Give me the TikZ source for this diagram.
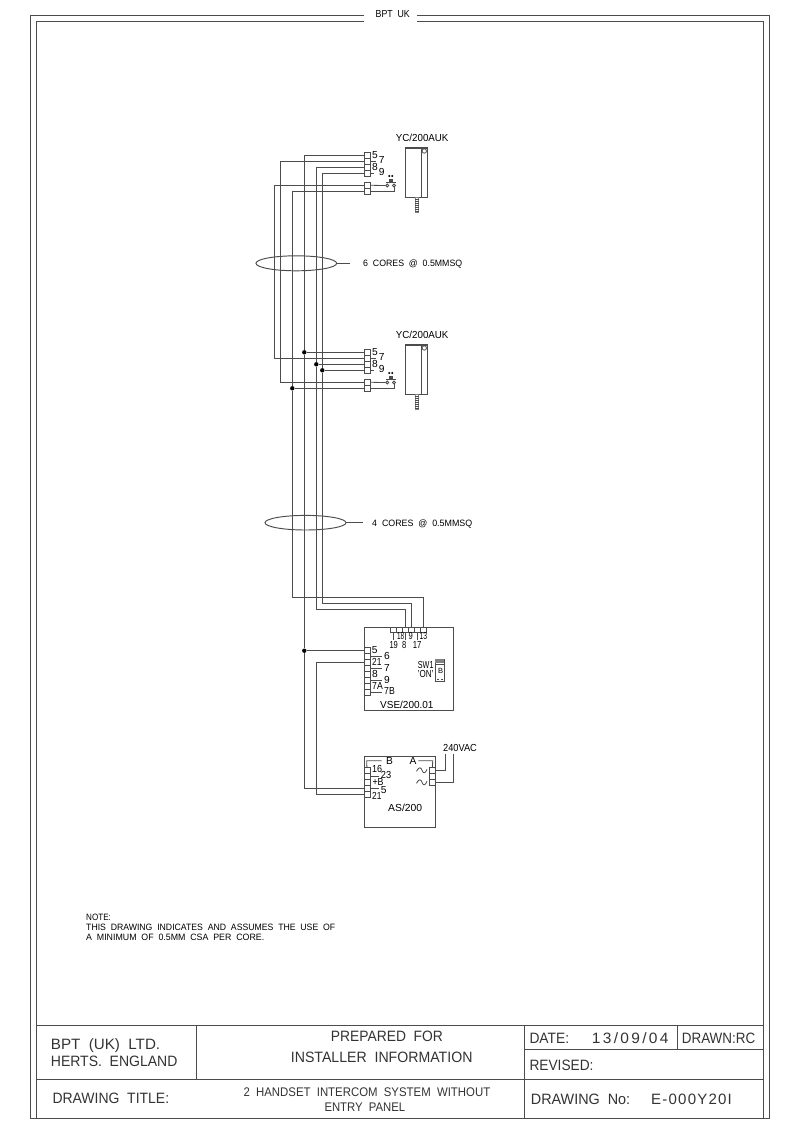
\documentclass[tikz,border=0pt]{standalone}
\usepackage{fontspec}
\usepackage{graphicx}
\usetikzlibrary{shapes.geometric}
\setmainfont{Liberation Sans}
\definecolor{ln}{gray}{0.3}
\newcommand\T[2]{\resizebox{#1pt}{\height}{\spaceskip=.55em #2}}
\tikzset{
  wire/.style={draw=ln,line width=0.95pt},
  fine/.style={draw=ln,line width=0.8pt},
  term/.style={draw=ln,line width=0.8pt,rectangle,inner sep=0pt,minimum width=6pt,minimum height=6pt},
  dotj/.style={circle,fill=black,inner sep=0pt,minimum size=4.4pt},
  ring/.style={circle,draw=ln,line width=0.8pt,inner sep=0pt,minimum size=3pt},
  box/.style={draw=ln,line width=0.95pt,rectangle,inner sep=0pt,anchor=north west},
  cable/.style={ellipse,draw=ln,line width=0.95pt,inner sep=0pt},
  lb/.style={anchor=base west,inner sep=0pt,font=\fontsize{10.2}{11}\selectfont,text=black},
  sm/.style={anchor=base west,inner sep=0pt,font=\fontsize{9.2}{10}\selectfont,text=black},
  big/.style={anchor=base west,inner sep=0pt,font=\fontsize{15}{16}\selectfont,text=black!80},
  mid/.style={anchor=base west,inner sep=0pt,font=\fontsize{12.5}{14}\selectfont,text=black!80}
}
\newcommand\Handset[2]{%
\begin{scope}[shift={(0,#2)}]
  \node[term] (#1a) at (367,155.3) {};
  \node[term] (#1b) at (367,161.3) {};
  \node[term] (#1c) at (367,167.3) {};
  \node[term] (#1d) at (367,173.3) {};
  \node[term] (#1e) at (367,185.3) {};
  \node[term] (#1f) at (367,191.3) {};
  \node[ring] (#1p) at (387.3,185.5) {};
  \node[ring] (#1q) at (394,185.5) {};
  \coordinate (#1n1) at (376,161.3);
  \coordinate (#1n2) at (374,173.3);
  \coordinate (#1n3) at (394,191.3);
  \draw[fine] (#1b.east) -- (#1n1);
  \draw[fine] (#1d.east) -- (#1n2);
  \draw[fine] (#1e.east) -- (#1p.west);
  \draw[fine] (#1f.east) -- (#1n3) -- (#1q.south);
  \fill[ln] (385.7,181.8) rectangle (395.7,183.2);
  \fill[ln] (389,179.3) rectangle (392.7,181.8);
  \fill[black] (389.3,176) circle (1.1);
  \fill[black] (392.3,176) circle (1.1);
  \draw[wire] (405.3,147.9) rectangle (427.3,197.3);
  \draw[ln,line width=1.6pt] (405.3,148.2) -- (427.3,148.2);
  \draw[fine] (421.3,148) -- (421.3,197.3);
  \draw[fine] (424.3,151) circle (2.2);
  \draw[ln!70,line width=0.6pt] (415.3,197.5) rectangle (418.5,212.3);
  \foreach \yy in {199,201,...,211} \draw[ln,line width=0.6pt] (415.3,\yy) -- (418.5,\yy);
  \node[lb] (#1t0) at (395.7,141.7) {\T{52.6}{YC/200AUK}};
  \node[lb] (#1t1) at (372,158.3) {5};
  \node[lb] (#1t2) at (378.7,163.7) {7};
  \node[lb] (#1t3) at (372,170.3) {8};
  \node[lb] (#1t4) at (378.7,175.7) {9};
\end{scope}}
\begin{document}
\begin{tikzpicture}[x=1pt,y=-1pt]
\useasboundingbox (0,0) rectangle (800,1132);
% frame
\coordinate (fa) at (363.7,15.3); \coordinate (fb) at (417.3,15.3);
\coordinate (fc) at (363.7,21.7); \coordinate (fd) at (417.3,21.7);
\draw[wire] (fa) -- (30,15.3) -- (30,1118.7) -- (769.3,1118.7) -- (769.3,15.3) -- (fb);
\draw[wire] (fc) -- (36,21.7) -- (36,1118.7);
\draw[wire] (fd) -- (763.7,21.7) -- (763.7,1118.7);
\node[lb] (ftitle) at (375.5,18) {\T{34}{BPT UK}};
% title block
\draw[wire] (36,1025) -- (763.7,1025);
\draw[wire] (36,1079.3) -- (763.7,1079.3);
\draw[wire] (196.7,1025) -- (196.7,1079.3);
\draw[wire] (524.7,1025) -- (524.7,1118.7);
\draw[wire] (677.3,1025) -- (677.3,1049.7);
\draw[wire] (524.7,1049.7) -- (763.7,1049.7);
\node[big] at (50.7,1049) {\T{109.3}{BPT (UK) LTD.}};
\node[big] at (50.7,1066.7) {\T{126.6}{HERTS. ENGLAND}};
\node[big] at (52.3,1103.3) {\T{116.7}{DRAWING TITLE:}};
\node[big] at (330.7,1041.7) {\T{112}{PREPARED FOR}};
\node[big] at (290.7,1062.3) {\T{181.6}{INSTALLER INFORMATION}};
\node[mid] at (243.3,1096) {\T{246.7}{2 HANDSET INTERCOM SYSTEM WITHOUT}};
\node[mid] at (324.3,1111) {\T{80.7}{ENTRY PANEL}};
\node[big] at (529.3,1043.3) {\T{39.7}{DATE:}};
\node[big] at (591.7,1043.3) {\T{76.6}{\addfontfeature{LetterSpace=15}13/09/04}};
\node[big] at (681.7,1043.3) {\T{73.3}{DRAWN:RC}};
\node[big] at (529.3,1070) {\T{64}{REVISED:}};
\node[big] at (530.7,1104.3) {\T{99.3}{DRAWING No:}};
\node[big] at (651,1104.3) {\T{80.7}{\addfontfeature{LetterSpace=8}E-000Y20I}};
% note
\node[sm] at (86,920) {\T{24.7}{NOTE:}};
\node[sm] at (86,930.7) {\T{249}{THIS DRAWING INDICATES AND ASSUMES THE USE OF}};
\node[sm] at (86,940.7) {\T{178}{A MINIMUM OF 0.5MM CSA PER CORE.}};
% handsets
\Handset{A}{0}
\Handset{B}{197}
% VSE
\node[box,minimum width=89.6pt,minimum height=83.3pt] (vse) at (363.7,627) {};
\foreach \n/\yy in {a/650.7,b/656.7,c/662.7,d/668.7,e/674.7,f/680.7,g/686.7,h/692.7}
  \node[term] (V\n) at (366.9,\yy) {};
\foreach \n/\xx in {p/393,q/399.1,r/405.2,s/411.3,t/417.4,u/423.5}
  \node[term,minimum width=6.1pt,minimum height=5.3pt] (V\n) at (\xx,629.7) {};
\foreach \n in {b,d,f,h} { \draw[fine] (V\n.east) -- ++(11.7,0); }
\foreach \n in {p,r,t} { \draw[fine] (V\n.south) -- ++(0,7.5); }
\node[lb] at (371.7,653.3) {5};
\node[lb] at (384,659.3) {6};
\node[lb] at (372,665.3) {\T{9.3}{21}};
\node[lb] at (384,671.3) {7};
\node[lb] at (372,677.3) {8};
\node[lb] at (384,683.3) {9};
\node[lb] at (372,689.3) {\T{10.6}{7A}};
\node[lb] at (384,694.7) {\T{10.6}{7B}};
\node[lb] at (396.8,639) {\T{7}{18}};
\node[lb] at (408.3,639) {\T{4.2}{9}};
\node[lb] at (419.3,639) {\T{7.6}{13}};
\node[lb] at (389.3,648.3) {\T{8.4}{19}};
\node[lb] at (402,648.3) {\T{4.2}{8}};
\node[lb] at (412.7,648.3) {\T{8.6}{17}};
\node[lb] at (417.7,668.7) {\T{15.6}{SW1}};
\node[lb] at (417.7,677.7) {\T{15.6}{'ON'}};
\node[box,minimum width=9pt,minimum height=21.4pt] (sw) at (435.3,659.3) {};
\fill[ln!70] (435.3,659.3) rectangle (444.3,663.3);
\draw[fine] (435.3,664.8) -- (444.3,664.8);
\fill[ln] (437,678.6) rectangle (439,680);
\fill[ln] (440.6,678.6) rectangle (442.6,680);
\node[lb,font=\fontsize{7.5}{8}\selectfont] at (437.8,673.4) {B};
\node[lb] at (380,708) {\T{53.3}{VSE/200.01}};
% AS
\node[box,minimum width=71.6pt,minimum height=71pt] (as) at (363.7,755.7) {};
\foreach \n/\yy in {a/770.3,b/776.3,c/782.3,d/788.3,e/794.3}
  \node[term] (P\n) at (366.9,\yy) {};
\foreach \n/\yy in {x/770.3,y/776.3,z/782.3}
  \node[term] (P\n) at (432.5,\yy) {};
\coordinate (pb1) at (366.7,760.7); \coordinate (pb2) at (381.7,760.7);
\coordinate (pa1) at (418.3,760.7); \coordinate (pa2) at (432.7,760.7);
\draw[fine] (Pa.north) -- (pb1) -- (pb2);
\draw[fine] (pa1) -- (pa2) -- (Px.north);
\draw[fine] (Pb.east) -- ++(9,0);
\draw[fine] (Pd.east) -- ++(9,0);
\foreach \yy in {770.3,782.3} \draw[fine] (416.5,\yy+1) .. controls (419,\yy-4) and (421,\yy-3) .. (422,\yy) .. controls (423,\yy+3) and (425,\yy+4) .. (427,\yy-1);
\node[lb] at (386,764.3) {B};
\node[lb] at (409.3,764.3) {A};
\node[lb] at (372,772.3) {\T{10}{16}};
\node[lb] at (380.7,778.7) {\T{10.3}{23}};
\node[lb] at (372.3,785.7) {\T{11}{+B}};
\node[lb] at (380.7,793) {5};
\node[lb] at (372,799.3) {\T{9.3}{21}};
\node[lb] at (388,811) {\T{34}{AS/200}};
\node[lb] at (443,751.7) {\T{33.7}{240VAC}};
\coordinate (m1) at (445,754); \coordinate (m2) at (453.7,754);
\draw[wire] (Px.east) -| (m1);
\draw[wire] (Pz.east) -| (m2);
% columns
\coordinate (c1) at (274.3,300); \coordinate (c2) at (280.3,300);
\coordinate (c3) at (292.3,300); \coordinate (c4) at (304.3,300);
\coordinate (c5) at (316.3,300); \coordinate (c6) at (322.3,300);
\coordinate (h1) at (350,597.3); \coordinate (h2) at (350,603.3); \coordinate (h3) at (350,609.3);
% junctions
\node[dotj] (j1) at (c4 |- Ba.west) {};
\node[dotj] (j2) at (c5 |- Bc.west) {};
\node[dotj] (j3) at (c6 |- Bd.west) {};
\node[dotj] (j4) at (c3 |- Bf.west) {};
\node[dotj] (j5) at (c4 |- Va.west) {};
\coordinate (k5) at (c5 |- Vc.west);
% wires
\draw[wire] (Ae.west) -| (c1) |- (Bb.west);
\draw[wire] (Ab.west) -| (c2) |- (Be.west);
\draw[wire] (Af.west) -| (j4);
\draw[wire] (Aa.west) -| (j1);
\draw[wire] (Ac.west) -| (j2);
\draw[wire] (Ad.west) -| (j3);
\draw[wire] (Ba.west) -- (j1);
\draw[wire] (Bc.west) -- (j2);
\draw[wire] (Bd.west) -- (j3);
\draw[wire] (Bf.west) -- (j4);
\draw[wire] (j4) |- (h1) -| (Vu.north);
\draw[wire] (j3) |- (h2) -| (Vs.north);
\draw[wire] (j2) |- (h3) -| (Vr.north);
\draw[wire] (j1) -- (j5);
\draw[wire] (j5) -- (Va.west);
\draw[wire] (j5) |- (Pd.west);
\draw[wire] (Vc.west) -- (k5) |- (Pe.west);
% cables
\node[cable,minimum width=80.7pt,minimum height=15pt] (e1) at (296.3,263.3) {};
\coordinate (l1) at (350,263.3);
\draw[wire] (e1.east) -- (l1);
\node[sm] (t6) at (363,266.7) {\T{99}{6 CORES @ 0.5MMSQ}};
\node[cable,minimum width=81pt,minimum height=14.6pt] (e2) at (305.5,522.7) {};
\coordinate (l2) at (363,522.7);
\draw[wire] (e2.east) -- (l2);
\node[sm] (t4) at (372,526) {\T{100}{4 CORES @ 0.5MMSQ}};
\end{tikzpicture}
\end{document}
